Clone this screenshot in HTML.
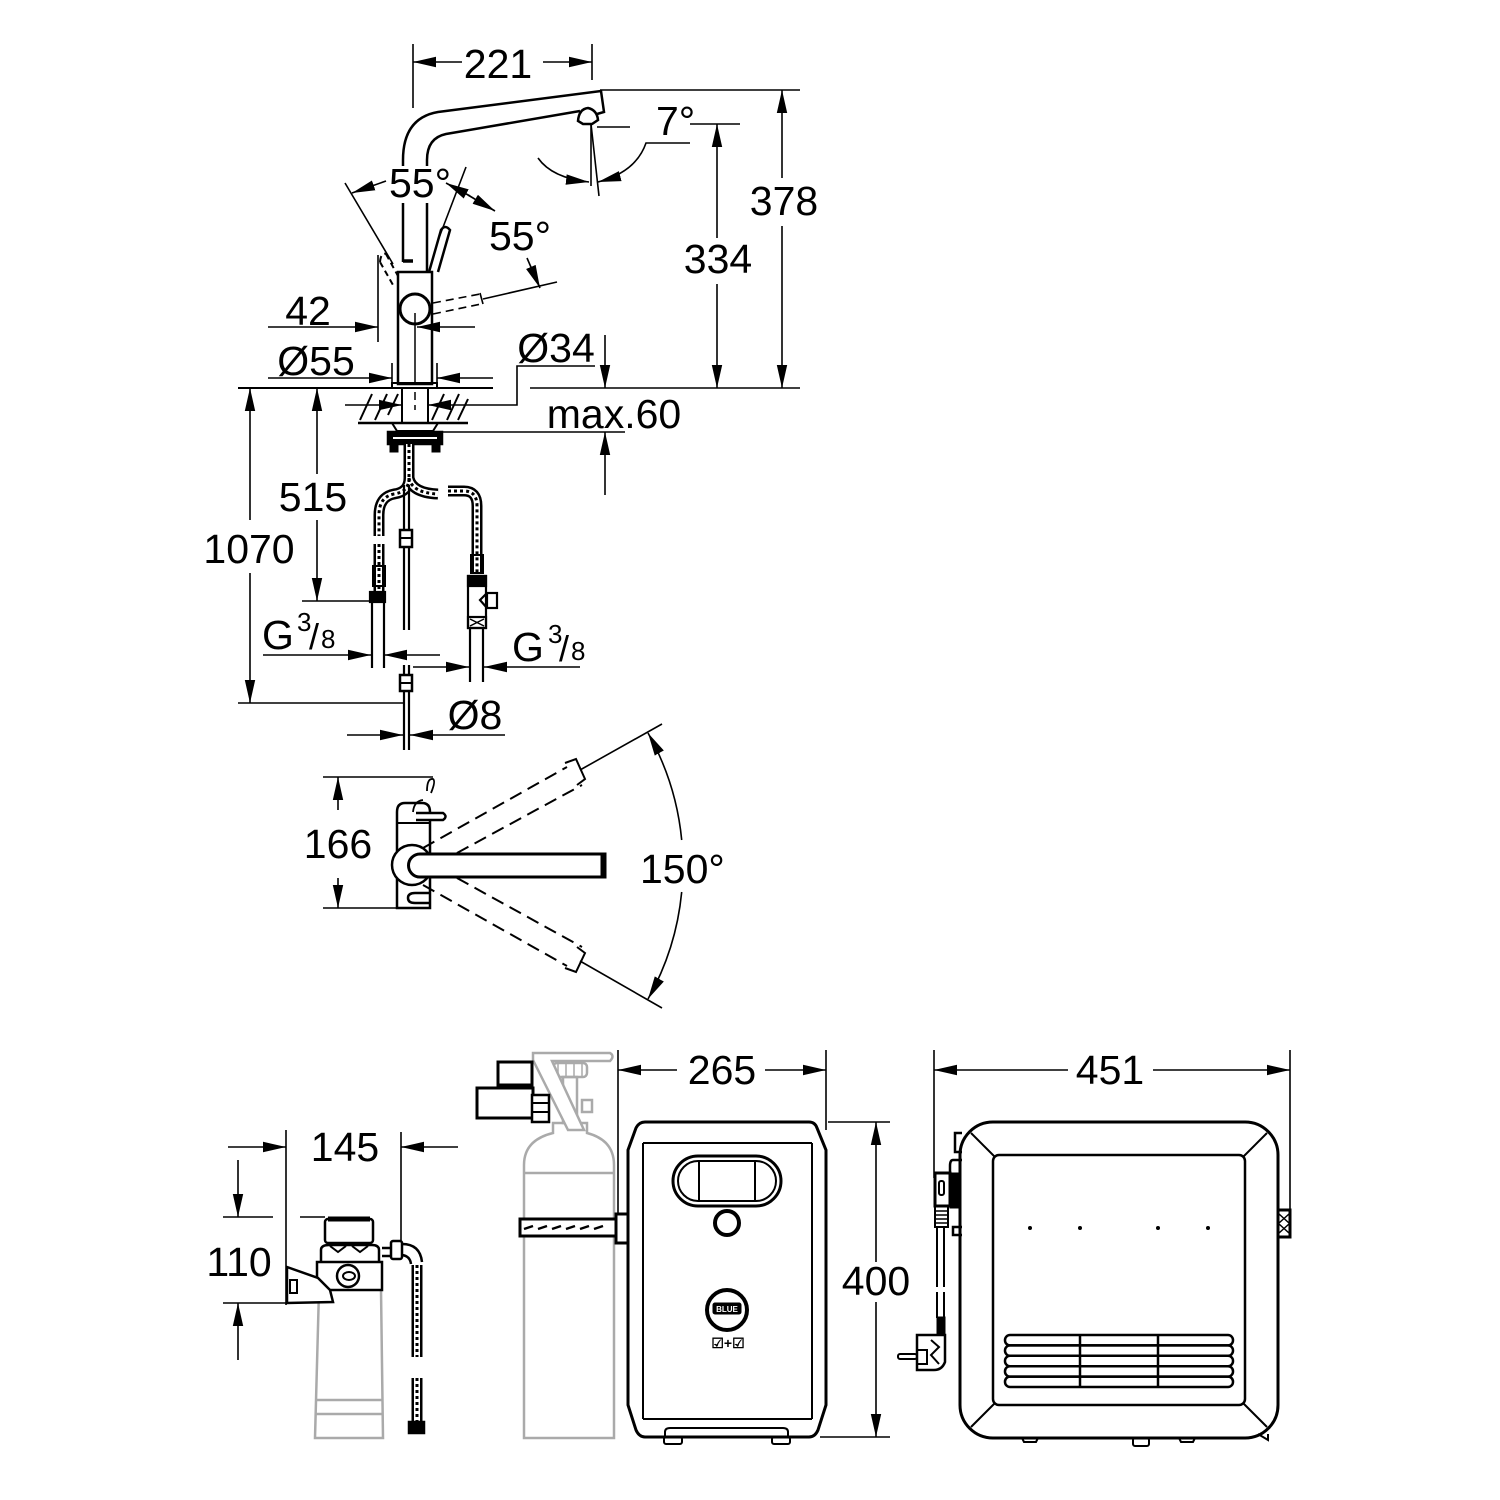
<!DOCTYPE html>
<html><head><meta charset="utf-8"><style>
html,body{margin:0;padding:0;background:#fff}
svg{display:block}
text{font-family:"Liberation Sans",Arial,sans-serif;font-size:41px;fill:#000;stroke:none}
</style></head><body>
<svg width="1500" height="1500" viewBox="0 0 1500 1500" xmlns="http://www.w3.org/2000/svg">
<defs>
<marker id="a" markerUnits="userSpaceOnUse" markerWidth="24" markerHeight="12" refX="23" refY="6" orient="auto"><path d="M0,0.8 L23,6 L0,11.2 z" fill="#000" stroke="none"/></marker>
</defs>
<rect width="1500" height="1500" fill="#fff"/>

<!-- ============ DIMENSION LINES ============ -->
<g fill="none" stroke="#000" stroke-width="1.6">
<!-- 221 -->
<line x1="413" y1="44" x2="413" y2="108"/>
<line x1="592" y1="44" x2="592" y2="80"/>
<line x1="462" y1="62" x2="413" y2="62" marker-end="url(#a)"/>
<line x1="543" y1="62" x2="592" y2="62" marker-end="url(#a)"/>
<!-- 378 -->
<line x1="600" y1="90" x2="800" y2="90"/>
<line x1="530" y1="388" x2="800" y2="388"/>
<line x1="782" y1="178" x2="782" y2="90" marker-end="url(#a)"/>
<line x1="782" y1="226" x2="782" y2="388" marker-end="url(#a)"/>
<!-- 334 -->
<line x1="690" y1="124" x2="740" y2="124"/>
<line x1="717" y1="238" x2="717" y2="124" marker-end="url(#a)"/>
<line x1="717" y1="284" x2="717" y2="388" marker-end="url(#a)"/>
<!-- 7 deg -->
<line x1="597" y1="127" x2="630" y2="127"/>
<line x1="591" y1="124" x2="591" y2="186"/>
<line x1="591" y1="124" x2="599" y2="196"/>
<path d="M538,158 Q552,178 589,182" marker-end="url(#a)"/>
<path d="M690,143 L646,143 Q636,172 598,182" marker-end="url(#a)"/>
<!-- 55 deg -->
<line x1="345" y1="183" x2="393" y2="264"/>
<line x1="466" y1="167" x2="437" y2="243"/>
<line x1="386" y1="181" x2="352" y2="193" marker-end="url(#a)"/>
<line x1="470" y1="196" x2="446" y2="183" marker-end="url(#a)"/>
<line x1="468" y1="195" x2="495" y2="211" marker-end="url(#a)"/>
<line x1="527" y1="258" x2="540" y2="288" marker-end="url(#a)"/>
<path d="M433,303 L480,294 M433,314 L481,304" stroke-dasharray="8 5"/>
<line x1="480" y1="293" x2="483" y2="304"/>
<line x1="483" y1="299" x2="557" y2="282"/>
<!-- 42 -->
<line x1="378" y1="255" x2="378" y2="342"/>
<line x1="268" y1="327" x2="378" y2="327" marker-end="url(#a)"/>
<line x1="475" y1="327" x2="417" y2="327" marker-end="url(#a)"/>
<!-- Ø55 -->
<line x1="392" y1="363" x2="392" y2="385"/>
<line x1="437" y1="363" x2="437" y2="385"/>
<line x1="268" y1="378" x2="392" y2="378" marker-end="url(#a)"/>
<line x1="493" y1="378" x2="437" y2="378" marker-end="url(#a)"/>
<!-- Ø34 -->
<line x1="345" y1="405" x2="402" y2="405" marker-end="url(#a)"/>
<polyline points="595,366 517,366 517,405 428,405" marker-end="url(#a)"/>
<!-- max.60 -->
<line x1="605" y1="335" x2="605" y2="388" marker-end="url(#a)"/>
<line x1="605" y1="495" x2="605" y2="432" marker-end="url(#a)"/>
<line x1="440" y1="432" x2="625" y2="432"/>
<!-- counter -->
<line x1="238" y1="388" x2="493" y2="388" stroke-width="2"/>
<!-- 1070 -->
<line x1="238" y1="703" x2="405" y2="703"/>
<line x1="250" y1="520" x2="250" y2="388" marker-end="url(#a)"/>
<line x1="250" y1="573" x2="250" y2="703" marker-end="url(#a)"/>
<!-- 515 -->
<line x1="302" y1="601" x2="385" y2="601"/>
<line x1="317" y1="474" x2="317" y2="388" marker-end="url(#a)"/>
<line x1="317" y1="520" x2="317" y2="601" marker-end="url(#a)"/>
<!-- G3/8 -->
<line x1="263" y1="655" x2="371" y2="655" marker-end="url(#a)"/>
<line x1="440" y1="655" x2="384" y2="655" marker-end="url(#a)"/>
<line x1="413" y1="667" x2="469" y2="667" marker-end="url(#a)"/>
<line x1="580" y1="667" x2="484" y2="667" marker-end="url(#a)"/>
<!-- Ø8 -->
<line x1="347" y1="735" x2="403" y2="735" marker-end="url(#a)"/>
<line x1="505" y1="735" x2="410" y2="735" marker-end="url(#a)"/>

<!-- 166 -->
<line x1="323" y1="777" x2="433" y2="777"/>
<line x1="323" y1="908" x2="430" y2="908"/>
<line x1="338" y1="810" x2="338" y2="777" marker-end="url(#a)"/>
<line x1="338" y1="878" x2="338" y2="908" marker-end="url(#a)"/>
<!-- 150 arc -->
<line x1="580" y1="770" x2="662" y2="724"/>
<line x1="580" y1="961" x2="662" y2="1008"/>
<path d="M681.7,840 A270,270 0 0 0 648,733" marker-end="url(#a)"/>
<path d="M681.7,892 A270,270 0 0 1 648,999" marker-end="url(#a)"/>

<!-- 145 / 110 -->
<line x1="286" y1="1130" x2="286" y2="1305"/>
<line x1="401" y1="1132" x2="401" y2="1243"/>
<line x1="228" y1="1147" x2="286" y2="1147" marker-end="url(#a)"/>
<line x1="458" y1="1147" x2="401" y2="1147" marker-end="url(#a)"/>
<line x1="238" y1="1160" x2="238" y2="1217" marker-end="url(#a)"/>
<line x1="223" y1="1217" x2="273" y2="1217"/>
<line x1="300" y1="1217" x2="325" y2="1217"/>
<line x1="223" y1="1303" x2="286" y2="1303"/>
<line x1="238" y1="1360" x2="238" y2="1303" marker-end="url(#a)"/>

<!-- 265 / 400 -->
<line x1="618" y1="1050" x2="618" y2="1214"/>
<line x1="826" y1="1050" x2="826" y2="1130"/>
<line x1="677" y1="1070" x2="618" y2="1070" marker-end="url(#a)"/>
<line x1="765" y1="1070" x2="826" y2="1070" marker-end="url(#a)"/>
<line x1="828" y1="1122" x2="890" y2="1122"/>
<line x1="820" y1="1437" x2="890" y2="1437"/>
<line x1="876" y1="1262" x2="876" y2="1122" marker-end="url(#a)"/>
<line x1="876" y1="1302" x2="876" y2="1437" marker-end="url(#a)"/>

<!-- 451 -->
<line x1="934" y1="1050" x2="934" y2="1178"/>
<line x1="1290" y1="1050" x2="1290" y2="1212"/>
<line x1="1068" y1="1070" x2="934" y2="1070" marker-end="url(#a)"/>
<line x1="1153" y1="1070" x2="1290" y2="1070" marker-end="url(#a)"/>
</g>

<!-- ============ FAUCET SIDE VIEW ============ -->
<g fill="none" stroke="#000" stroke-width="2.5">
<path d="M403,166 L403,160 Q403,118 438,112 L601,91 L604,112 L597,114"/>
<path d="M427,166 L427,160 Q427,138 446,134 L580,111"/>
<path d="M578,121 Q579,109 588,108 Q597,110 598,120 L592,124 L583,124 Z" fill="#fff"/>
<line x1="403" y1="203" x2="403" y2="262"/>
<line x1="427" y1="203" x2="427" y2="272"/>
<line x1="403" y1="261" x2="413" y2="261" stroke-width="3.5"/>
<rect x="398" y="272" width="34" height="112"/>
<path d="M429,272 L441,230 Q445,224 450,230 L438,272"/>
<path d="M380,262 L393,285 M386,254 L398,276 M380,262 Q381,252 386,254" stroke-dasharray="6 4" stroke-width="2"/>
<circle cx="415" cy="309" r="15" stroke-width="3" fill="#fff"/>
<line x1="415" y1="313" x2="415" y2="383" stroke-width="1.5"/>
<rect x="392" y="383" width="45" height="5" stroke-width="2"/>
<rect x="402" y="388" width="26" height="35" stroke-width="2"/>
<line x1="415" y1="392" x2="415" y2="410" stroke-width="1.5" stroke-dasharray="8 5"/>
<line x1="358" y1="423" x2="468" y2="423" stroke-width="2.5"/>
<g stroke-width="2">
<line x1="360" y1="420" x2="372" y2="394"/>
<line x1="375" y1="420" x2="387" y2="394"/>
<line x1="388" y1="415" x2="398" y2="394"/>
<line x1="432" y1="420" x2="444" y2="394"/>
<line x1="447" y1="420" x2="459" y2="394"/>
<line x1="458" y1="420" x2="468" y2="399"/>
</g>
<path d="M392,423 L438,423 L433,431 L397,431 Z" stroke-width="2"/>
<rect x="388" y="432" width="54" height="12" fill="#000"/>
<line x1="393" y1="438" x2="437" y2="438" stroke="#fff" stroke-width="2"/>
<rect x="390" y="444" width="8" height="8" fill="#000" stroke-width="1"/>
<rect x="432" y="444" width="8" height="8" fill="#000" stroke-width="1"/>
</g>

<!-- hoses -->
<g fill="none">
<g stroke="#000" stroke-width="11">
<path d="M409,444 L409,482"/>
<path d="M409,478 Q409,492 394,494 Q379,497 379,515 L379,536"/>
<path d="M409,478 Q412,493 438,494"/>
<path d="M448,491 L464,491 Q477,491 477,506 L477,574"/>
<path d="M379,544 L379,592"/>
<path d="M417,1265 L417,1357"/>
<path d="M417,1378 L417,1422"/>
</g>
<g stroke="#fff" stroke-width="6">
<path d="M409,444 L409,482"/>
<path d="M409,478 Q409,492 394,494 Q379,497 379,515 L379,536"/>
<path d="M409,478 Q412,493 438,494"/>
<path d="M448,491 L464,491 Q477,491 477,506 L477,574"/>
<path d="M379,544 L379,592"/>
<path d="M417,1265 L417,1357"/>
<path d="M417,1378 L417,1422"/>
</g>
<g stroke="#000" stroke-width="3" stroke-dasharray="3 3">
<path d="M409,444 L409,482"/>
<path d="M409,478 Q409,492 394,494 Q379,497 379,515 L379,536"/>
<path d="M409,478 Q412,493 438,494"/>
<path d="M448,491 L464,491 Q477,491 477,506 L477,574"/>
<path d="M379,544 L379,592"/>
<path d="M417,1265 L417,1357"/>
<path d="M417,1378 L417,1422"/>
</g>
</g>
<g fill="none" stroke="#000" stroke-width="2.2">
<rect x="373" y="566" width="12" height="20" stroke-width="2"/>
<rect x="471" y="555" width="12" height="18" stroke-width="2"/>
<rect x="370" y="592" width="15" height="10" fill="#000"/>
<line x1="372" y1="602" x2="372" y2="668"/>
<line x1="384" y1="602" x2="384" y2="668"/>
<!-- T fitting -->
<rect x="468" y="576" width="18" height="52" fill="#fff"/>
<rect x="468" y="576" width="18" height="10" fill="#000"/>
<rect x="487" y="593" width="10" height="15"/>
<path d="M487,593 L480,600 L487,608"/>
<rect x="468" y="617" width="18" height="11"/>
<path d="M470,619 L484,626 M484,619 L470,626" stroke-width="1.5"/>
<line x1="470" y1="628" x2="470" y2="682"/>
<line x1="483" y1="628" x2="483" y2="682"/>
<!-- centre thin -->
<line x1="404" y1="485" x2="404" y2="630"/>
<line x1="409" y1="485" x2="409" y2="630"/>
<rect x="400" y="530" width="12" height="17" fill="#fff" stroke-width="2.5"/>
<line x1="400" y1="538" x2="412" y2="538" stroke-width="2"/>
<line x1="404" y1="665" x2="404" y2="750"/>
<line x1="409" y1="665" x2="409" y2="750"/>
<rect x="400" y="675" width="12" height="16" fill="#fff" stroke-width="2.5"/>
<line x1="400" y1="683" x2="412" y2="683" stroke-width="2"/>
</g>

<!-- ============ TOP VIEW ============ -->
<g fill="none" stroke="#000" stroke-width="2.5">
<path d="M397,908 L397,812 Q397,803 405,803 L422,803 Q430,803 430,812 L430,908 Z"/>
<line x1="397" y1="823" x2="430" y2="823" stroke-width="2"/>
<path d="M416,813 L443,813 Q448,816.5 443,820 L416,820" fill="#fff"/>
<path d="M427,791 Q427,778 433,779 Q436,781 431,793" stroke-width="1.8"/>
<path d="M413,812 Q414,801 423,800" stroke-width="1.8"/>
<circle cx="412" cy="865" r="20" fill="#fff"/>
<path d="M420,854 L605,854 L605,877 L420,877 A11.5,11.5 0 0 1 420,854 Z" fill="#fff" stroke-width="3"/>
<line x1="603" y1="854" x2="603" y2="877" stroke-width="5"/>
<path d="M429,893 L415,893 Q408,893 408,898 Q408,903 415,903 L429,903"/>
<g stroke-width="2" stroke-dasharray="13 7">
<line x1="423" y1="848" x2="567" y2="767"/>
<line x1="457" y1="853" x2="582" y2="785"/>
<line x1="457" y1="878" x2="582" y2="947"/>
<line x1="423" y1="885" x2="567" y2="966"/>
</g>
<path d="M565,763 L576,759 L585,779 L577,785" stroke-width="2"/>
<path d="M577,947 L585,953 L576,972 L565,968" stroke-width="2"/>
</g>

<!-- ============ FILTER ============ -->
<g fill="none" stroke="#aaa" stroke-width="2.5">
<path d="M319,1290 L315,1438 L383,1438 L381,1290"/>
<line x1="316" y1="1400" x2="383" y2="1400"/>
<line x1="316" y1="1414" x2="383" y2="1414"/>
</g>
<g fill="none" stroke="#000" stroke-width="2.5">
<rect x="325" y="1219" width="48" height="24" rx="3" fill="#fff"/>
<line x1="328" y1="1219" x2="370" y2="1219" stroke-width="5"/>
<path d="M321,1262 L321,1250 Q321,1245 329,1245 L372,1245 Q379,1245 379,1250 L379,1262" fill="#fff"/>
<path d="M330,1246 L338,1252 L346,1246 M352,1246 L360,1252 L368,1246" stroke-width="2"/>
<rect x="317" y="1262" width="65" height="28" fill="#fff"/>
<path d="M287,1267 L318,1278 L330,1290 L333,1302 L287,1303 Z" fill="#fff"/>
<rect x="290" y="1280" width="7" height="13" stroke-width="2"/>
<circle cx="348" cy="1276" r="11" fill="#fff"/>
<ellipse cx="349" cy="1276" rx="6" ry="4" stroke-width="2"/>
<rect x="391" y="1241" width="11" height="18" rx="2" fill="#fff"/>
<path d="M382,1248 L391,1248 M382,1256 L391,1256"/>
<path d="M402,1244 Q420,1244 422,1262 M402,1255 Q410,1256 411,1264"/>
<rect x="409" y="1422" width="15" height="11" fill="#000"/>
</g>

<!-- ============ CHILLER ============ -->
<g fill="none" stroke="#aaa" stroke-width="2.5">
<path d="M524,1438 L524,1165 Q524,1140 553,1133 L553,1123 L587,1123 L587,1133 Q614,1140 614,1165 L614,1438 Z"/>
<line x1="524" y1="1173" x2="614" y2="1173"/>
<rect x="553" y="1063" width="34" height="14" rx="4"/>
<path d="M558,1063 L558,1077 M566,1063 L566,1077 M574,1063 L574,1077 M582,1063 L582,1077" stroke-width="1.5"/>
<rect x="563" y="1077" width="14" height="46"/>
<rect x="582" y="1100" width="10" height="12"/>
<path d="M533,1053 L610,1053 Q615,1056 610,1061 L552,1061 L584,1130 L568,1130 L533,1060 Z" fill="#fff"/>
</g>
<g fill="none" stroke="#000" stroke-width="3">
<rect x="498" y="1062" width="34" height="23" fill="#fff"/>
<rect x="477" y="1088" width="56" height="30" fill="#fff"/>
<rect x="532" y="1095" width="17" height="27" stroke-width="2.5" fill="#fff"/>
<line x1="532" y1="1103" x2="549" y2="1103" stroke-width="2"/>
<line x1="532" y1="1112" x2="549" y2="1112" stroke-width="2"/>
<rect x="520" y="1219" width="96" height="17" fill="#fff"/>
<path d="M524,1229 L533,1226 M538,1229 L547,1226 M552,1229 L561,1226 M566,1229 L575,1226 M580,1229 L589,1226 M594,1229 L603,1226" stroke-width="2.5"/>
<rect x="616" y="1214" width="12" height="29" fill="#fff"/>
<!-- box -->
<path d="M645,1122 L809,1122 Q815,1122 817,1128 L826,1150 L826,1405 L818,1430 Q815,1437 809,1437 L645,1437 Q639,1437 636,1430 L628,1405 L628,1150 L636,1128 Q639,1122 645,1122 Z" fill="#fff"/>
<g stroke-width="2">
<line x1="643" y1="1143" x2="812" y2="1143"/>
<line x1="643" y1="1419" x2="812" y2="1419"/>
<line x1="643" y1="1143" x2="643" y2="1419"/>
<line x1="812" y1="1143" x2="812" y2="1419"/>
</g>
<rect x="673" y="1156" width="108" height="50" rx="25"/>
<rect x="678" y="1161" width="98" height="40" rx="20" stroke-width="2"/>
<line x1="699" y1="1161" x2="699" y2="1201" stroke-width="2"/>
<line x1="755" y1="1161" x2="755" y2="1201" stroke-width="2"/>
<circle cx="727" cy="1223" r="12" stroke-width="4"/>
<circle cx="727" cy="1310" r="20" stroke-width="4"/>
<rect x="713" y="1303" width="28" height="11" rx="2" fill="#000" stroke-width="1"/>
<path d="M665,1437 L665,1432 Q665,1428 670,1428 L783,1428 Q788,1428 788,1432 L788,1437" stroke-width="2"/>
<rect x="664" y="1437" width="18" height="7" rx="2" stroke-width="2"/>
<rect x="772" y="1437" width="18" height="7" rx="2" stroke-width="2"/>
</g>

<!-- ============ 451 UNIT ============ -->
<g fill="none" stroke="#000" stroke-width="3">
<rect x="960" y="1122" width="318" height="316" rx="33" fill="#fff"/>
<rect x="993" y="1155" width="252" height="250" rx="6" stroke-width="2.5"/>
<g stroke-width="2">
<line x1="971" y1="1133" x2="995" y2="1157"/>
<line x1="1267" y1="1133" x2="1243" y2="1157"/>
<line x1="971" y1="1427" x2="995" y2="1403"/>
<line x1="1267" y1="1427" x2="1243" y2="1403"/>
</g>
<g stroke-width="2.5">
<rect x="1005" y="1335" width="228" height="10.4" rx="5"/>
<rect x="1005" y="1345.4" width="228" height="10.4" rx="5"/>
<rect x="1005" y="1355.8" width="228" height="10.4" rx="5"/>
<rect x="1005" y="1366.2" width="228" height="10.4" rx="5"/>
<rect x="1005" y="1376.6" width="228" height="10.4" rx="5"/>
<line x1="1080" y1="1335" x2="1080" y2="1387"/>
<line x1="1158" y1="1335" x2="1158" y2="1387"/>
</g>
<g stroke-width="2">
<path d="M1022,1438 L1024,1442 L1036,1442 L1038,1438"/>
<rect x="1133" y="1438" width="16" height="8" rx="2"/>
<path d="M1179,1438 L1181,1442 L1193,1442 L1195,1438"/>
<path d="M1258,1434 L1268,1440 L1268,1434"/>
</g>
<rect x="1278" y="1210" width="12" height="27"/>
<path d="M1279,1214 L1289,1223 M1289,1214 L1279,1223 M1279,1224 L1289,1233 M1289,1224 L1279,1233" stroke-width="1.5"/>
<!-- left side fittings -->
<path d="M962,1133 L955,1133 L955,1152 L962,1152" stroke-width="2.5"/>
<path d="M962,1160 L953,1160 Q950,1160 950,1166 L950,1173" stroke-width="2.5"/>
<rect x="935" y="1173" width="15" height="33" stroke-width="3" fill="#fff"/>
<rect x="939" y="1181" width="5" height="14" rx="2" stroke-width="2"/>
<rect x="950" y="1173" width="8" height="35" fill="#000" stroke-width="1"/>
<rect x="935" y="1206" width="13" height="21" stroke-width="2"/>
<path d="M935,1211 L948,1211 M935,1215 L948,1215 M935,1219 L948,1219 M935,1223 L948,1223" stroke-width="1.5"/>
<path d="M962,1227 L953,1227 L953,1235 L962,1235" stroke-width="2.5"/>
<path d="M937,1227 L937,1287 M944,1227 L944,1287 M937,1292 L937,1318 M944,1292 L944,1318" stroke-width="2"/>
<rect x="937" y="1317" width="8" height="17" fill="#000" stroke-width="1"/>
<path d="M917,1335 L945,1335 L945,1362 Q942,1370 934,1370 L917,1370 Z" fill="#fff" stroke-width="2.5"/>
<path d="M917,1350 L927,1350 L927,1364 L917,1364" stroke-width="2"/>
<path d="M931,1340 L939,1347 L931,1355 L939,1364" stroke-width="2"/>
<rect x="898" y="1354" width="19" height="5" rx="2" stroke-width="2"/>
</g>
<g fill="#000">
<circle cx="1030" cy="1228" r="2"/>
<circle cx="1080" cy="1228" r="2"/>
<circle cx="1158" cy="1228" r="2"/>
<circle cx="1208" cy="1228" r="2"/>
</g>

<!-- ============ TEXT ============ -->
<g>
<text x="498" y="78" text-anchor="middle">221</text>
<text x="784" y="215" text-anchor="middle">378</text>
<text x="718" y="273" text-anchor="middle">334</text>
<text x="656" y="135">7°</text>
<text x="389" y="197">55°</text>
<text x="489" y="250">55°</text>
<text x="308" y="325" text-anchor="middle">42</text>
<text x="316" y="375" text-anchor="middle">Ø55</text>
<text x="556" y="362" text-anchor="middle">Ø34</text>
<text x="614" y="428" text-anchor="middle">max.60</text>
<text x="313" y="511" text-anchor="middle">515</text>
<text x="249" y="563" text-anchor="middle">1070</text>
<text x="262" y="649">G</text>
<text x="297" y="631" style="font-size:26px">3</text>
<text x="309" y="649" style="font-size:36px">/</text>
<text x="321" y="648" style="font-size:26px">8</text>
<text x="512" y="661">G</text>
<text x="548" y="643" style="font-size:26px">3</text>
<text x="559" y="661" style="font-size:36px">/</text>
<text x="571" y="660" style="font-size:26px">8</text>
<text x="475" y="729" text-anchor="middle">Ø8</text>
<text x="338" y="858" text-anchor="middle">166</text>
<text x="640" y="883">150°</text>
<text x="345" y="1161" text-anchor="middle">145</text>
<text x="239" y="1276" text-anchor="middle">110</text>
<text x="722" y="1084" text-anchor="middle">265</text>
<text x="876" y="1295" text-anchor="middle">400</text>
<text x="1110" y="1084" text-anchor="middle">451</text>
<text x="727" y="1312" text-anchor="middle" style="font-size:8px;font-weight:bold;fill:#fff">BLUE</text>
<text x="728" y="1348" text-anchor="middle" style="font-size:14px;font-weight:bold">☑+☑</text>
</g>
</svg>
</body></html>
